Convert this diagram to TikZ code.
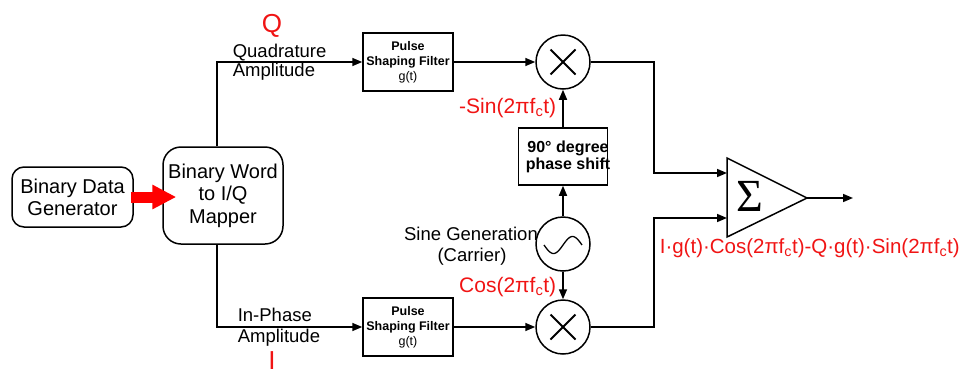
\documentclass[tikz,border=0pt]{standalone}
\usepackage{fontspec}
\setmainfont{Liberation Sans}
\newfontfamily\sigfont{Liberation Serif}
\usetikzlibrary{arrows.meta}
\definecolor{lblred}{RGB}{240,20,20}
\newcommand\fcs{f\textsubscript{c}}
\begin{document}
\begin{tikzpicture}[x=1pt,y=-1pt,
  line width=1.6pt,
  box/.style={draw,line width=1.5pt,inner sep=0pt,align=center},
  arr/.style={-{Triangle[length=10pt,width=8pt]}},
  mult/.style={draw,line width=1.5pt,circle,minimum size=54pt,inner sep=0pt},
  lbl/.style={inner sep=0pt,font=\fontsize{18.5}{20}\selectfont},
  redlbl/.style={inner sep=0pt,text=lblred,font=\fontsize{21}{24}\selectfont},
  biglbl/.style={inner sep=0pt,text=lblred,font=\fontsize{26}{26}\selectfont},
  filt/.style={box,minimum width=90pt,minimum height=58pt,font=\fontsize{12.5}{15}\selectfont},
]
\useasboundingbox (0,0) rectangle (960,376);

% boxes
\node[box,rounded corners=12pt,minimum width=121pt,minimum height=60pt,font=\fontsize{20}{22}\selectfont] (gen) at (72.5,197) {Binary Data\\Generator};
\node[box,rounded corners=18pt,minimum width=120pt,minimum height=97pt,font=\fontsize{20}{22.5}\selectfont] (mapper) at (223,195.5) {Binary Word\\to I/Q\\Mapper};
\node[filt] (fq) at (408,62) {\textbf{Pulse}\\\textbf{Shaping Filter}\\g(t)};
\node[filt] (fi) at (408,327) {\textbf{Pulse}\\\textbf{Shaping Filter}\\g(t)};
\node[box,minimum width=89pt,minimum height=57pt] (ph) at (563,156.5) {};
\node[inner sep=0pt,align=center,font=\bfseries\fontsize{16}{17.5}\selectfont] (phtext) at (568,157) {90° degree\\phase shift};

% multipliers and oscillator
\node[mult] (mq) at (563,62) {};
\node[mult] (mi) at (563,327) {};
\node[mult] (osc) at (563,244) {};
\foreach \m in {mq,mi}{
  \draw[line width=2pt] ([shift={(-12.5,-12.5)}]\m.center) -- ([shift={(12.5,12.5)}]\m.center);
  \draw[line width=2pt] ([shift={(-12.5,12.5)}]\m.center) -- ([shift={(12.5,-12.5)}]\m.center);
}
\draw[line width=1.3pt,domain=0:1,samples=40,smooth] plot ({544+38*\x},{245+8.5*sin(360*\x)});

% summer
\draw[line width=1.5pt] (727,158) -- (807,198) -- (727,237) -- cycle;
\coordinate (in1) at (727,173);
\coordinate (in2) at (727,218);
\coordinate (sout) at (807,198);
\coordinate (send) at (853,198);
\node[inner sep=0pt,font=\sigfont\fontsize{46}{46}\selectfont] (sig) at (750,196) {Σ};

% connectors
\draw[red,line width=11pt,-{Triangle[length=24pt,width=23pt]},shorten <=-3pt,shorten >=-14pt] (gen.east) -- (gen.east -| mapper.west);
\draw[arr] ([xshift=-6pt]mapper.north) |- (fq.west);
\draw[arr] ([xshift=-6pt]mapper.south) |- (fi.west);
\draw[arr] (fq.east) -- (mq.west);
\draw[arr] (fi.east) -- (mi.west);
\draw[arr] (ph.north) -- (mq.south);
\draw[arr] (osc.north) -- (ph.south);
\draw[arr] (osc.south) -- (mi.north);
\draw[arr] (mq.east) -| ([xshift=-73pt]in1) -- (in1);
\draw[arr] (mi.east) -| ([xshift=-73pt]in2) -- (in2);
\draw[arr] (sout) -- (send);

% labels
\node[biglbl,anchor=base] (qlab) at (272,32) {Q};
\node[biglbl,anchor=base] (ilab) at (272,369.5) {I};
\node[lbl,anchor=base west] (qt1) at (232,57) {Quadrature};
\node[lbl,anchor=base west] (qt2) at (232,76) {Amplitude};
\node[lbl,anchor=base west] (it1) at (237,321) {In-Phase};
\node[lbl,anchor=base west] (it2) at (237,342) {Amplitude};
\node[lbl,anchor=base] (sg1) at (471,240) {Sine Generation};
\node[lbl,anchor=base] (sg2) at (472,261) {(Carrier)};
\node[redlbl,anchor=base east] (sinlab) at (557,113) {-Sin(2π\fcs t)};
\node[redlbl,anchor=base east] (coslab) at (557,292) {Cos(2π\fcs t)};
\node[redlbl,anchor=base west,font=\fontsize{20.5}{24}\selectfont] (formula) at (659,253) {I·g(t)·Cos(2π\fcs t)-Q·g(t)·Sin(2π\fcs t)};
\end{tikzpicture}
\end{document}
